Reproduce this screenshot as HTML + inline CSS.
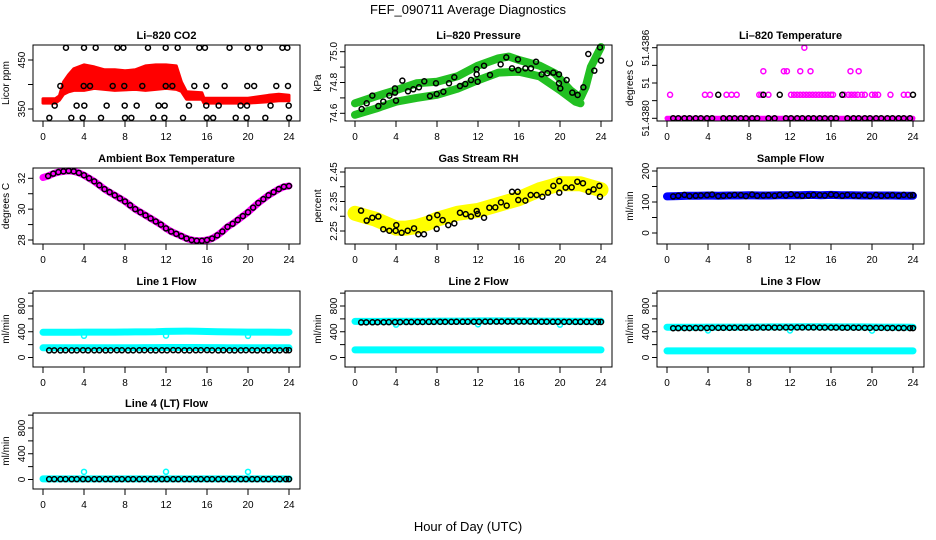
<!DOCTYPE html>
<html><head><meta charset="utf-8"><style>
html,body{margin:0;padding:0;background:#fff;}
svg{display:block;font-family:"Liberation Sans",Arial,sans-serif;}
</style></head><body>
<svg id="fig" width="936" height="540" viewBox="0 0 936 540" xmlns="http://www.w3.org/2000/svg">
<rect width="936" height="540" fill="#fff"/>
<text x="468" y="14" text-anchor="middle" font-size="13">FEF_090711  Average Diagnostics</text>
<text x="468" y="531" text-anchor="middle" font-size="13">Hour of Day (UTC)</text>
</svg>
<script>
// ---------- data ----------
const xTicks = [0,4,8,12,16,20,24];
const avgHours = [0.6,1.1,1.7,2.2,2.8,3.3,3.9,4.4,5.0,5.5,6.1,6.6,7.2,7.7,8.3,8.8,9.4,9.9,10.5,11.0,11.6,12.1,12.7,13.2,13.8,14.3,14.9,15.4,16.0,16.5,17.1,17.6,18.2,18.7,19.3,19.8,20.4,20.9,21.5,22.0,22.6,23.1,23.7,24.0];
const hourly = [0,1,2,3,4,5,6,7,8,9,10,11,12,13,14,15,16,17,18,19,20,21,22,23,24];

// CO2
const co2BandHours = [0,1.2,1.6,2,2.5,3,4,5,6,7,8,9,10,11,12,13,13.5,14,15.5,15.7,18,20,22,23,24];
const co2Lo = [362,362,368,380,385,388,388,392,390,388,389,390,388,390,392,390,386,370,370,362,362,362,365,367,367];
const co2Hi = [371,371,377,405,420,432,440,436,430,430,428,430,438,440,440,438,405,385,383,372,372,372,378,380,378];
const co2AvgHours = [2.24,4.0,5.14,7.25,7.84,10.24,11.97,13.14,15.25,15.8,18.2,19.97,21.14,23.35,23.84,
 1.69,3.97,4.59,6.8,7.93,9.69,11.97,12.62,14.76,15.93,17.72,19.93,20.6,22.76,23.9,
 1.14,3.28,4.03,6.21,7.97,9.14,11.28,11.87,14.24,15.93,17.14,19.28,19.9,22.2,23.97,
 0.62,2.76,3.87,5.66,8.0,8.62,10.76,11.84,13.66,15.97,16.6,18.8,19.87,21.69,24.0];
const co2AvgVals = [475,475,475,475,475,475,475,475,475,475,475,475,475,475,475,
 397,397,397,397,397,397,397,397,397,397,397,397,397,397,397,
 357,357,357,357,357,357,357,357,357,357,357,357,357,357,357,
 332,332,332,332,332,332,332,332,332,332,332,332,332,332,332];

// Pressure
const presUpHours = [0,2,4,6,8,10,12,14,15,16,18,19.5,21,22,22.5,23,24];
const presUpVals = [74.665,74.71,74.75,74.795,74.805,74.84,74.91,74.957,74.968,74.946,74.91,74.86,74.75,74.70,74.77,74.90,75.03];
const presLoHours = [0,2,4,6,8,10,12,14,16,18,20,21.5,22];
const presLoVals = [74.59,74.63,74.675,74.70,74.72,74.76,74.815,74.864,74.87,74.84,74.75,74.675,74.665];
const presAvgHours = [0.65,1.14,1.69,2.28,2.76,3.35,3.9,3.9,4.0,4.62,5.17,5.69,6.24,6.76,7.32,7.9,7.97,8.62,9.17,9.69,10.24,10.76,11.32,11.87,11.87,11.97,12.59,13.17,14.21,14.76,15.32,15.9,15.93,16.62,17.17,17.66,18.21,18.76,19.35,19.9,19.9,20.03,20.65,21.2,21.72,22.28,22.76,23.35,23.9,24.0];
const presAvgVals = [74.628,74.665,74.715,74.647,74.676,74.715,74.762,74.734,74.682,74.812,74.743,74.756,74.769,74.808,74.712,74.795,74.725,74.74,74.795,74.834,74.777,74.79,74.816,74.886,74.853,74.805,74.909,74.849,74.918,74.963,74.892,74.95,74.881,74.892,74.892,74.935,74.853,74.86,74.864,74.853,74.795,74.762,74.816,74.734,74.719,74.769,74.985,74.877,75.028,74.942];

// Li-820 temperature
const tempTicks = [51.438,51.438075,51.43815,51.438225,51.4383];
const tempTickLabels = ["51.4380","","51","","51.4386"];
const tempHiHours = [0.3,3.7,4.2,5.8,6.3,6.8,9.0,9.2,9.9,12.1,12.4,12.7,13.0,13.3,13.6,13.9,14.2,14.5,14.8,15.1,15.4,15.7,16.0,16.2,17.3,17.7,18.0,18.3,18.6,19.0,19.3,20.0,20.3,20.6,21.8,23.1,23.5,9.4,11.4,11.7,13.0,14.0,17.9,18.7,13.4];
const tempHiVals = [51.4381,51.4381,51.4381,51.4381,51.4381,51.4381,51.4381,51.4381,51.4381,51.4381,51.4381,51.4381,51.4381,51.4381,51.4381,51.4381,51.4381,51.4381,51.4381,51.4381,51.4381,51.4381,51.4381,51.4381,51.4381,51.4381,51.4381,51.4381,51.4381,51.4381,51.4381,51.4381,51.4381,51.4381,51.4381,51.4381,51.4381,51.4382,51.4382,51.4382,51.4382,51.4382,51.4382,51.4382,51.4383];
const tempAvgVals = [51.438,51.438,51.438,51.438,51.438,51.438,51.438,51.438,51.4381,51.438,51.438,51.438,51.438,51.438,51.438,51.438,51.4381,51.438,51.438,51.4381,51.438,51.438,51.438,51.438,51.438,51.438,51.438,51.438,51.438,51.438,51.4381,51.438,51.438,51.438,51.438,51.438,51.438,51.438,51.438,51.438,51.438,51.438,51.438,51.4381];

// Ambient box temperature
const ambHours = [0,0.5,1,1.5,2,2.5,3,3.5,4,4.5,5,5.5,6,6.5,7,7.5,8,8.5,9,9.5,10,10.5,11,11.5,12,12.5,13,13.5,14,14.5,15,15.5,16,16.5,17,17.5,18,18.5,19,19.5,20,20.5,21,21.5,22,22.5,23,23.5,24];
const ambVals = [32.05,32.15,32.3,32.4,32.45,32.48,32.45,32.35,32.2,32.0,31.8,31.55,31.3,31.1,30.9,30.7,30.5,30.25,30.0,29.8,29.6,29.4,29.2,29.0,28.75,28.55,28.4,28.25,28.1,28.0,27.95,27.95,28.0,28.1,28.3,28.55,28.85,29.05,29.3,29.55,29.8,30.1,30.4,30.65,30.9,31.1,31.3,31.45,31.5];

// Gas stream RH
const rhBandHours = [0,1,2,3,4,5,6,7,8,9,10,11,12,13,14,15,16,17,18,19,20,21,22,23,24];
const rhBandVals = [2.31,2.30,2.29,2.275,2.26,2.26,2.265,2.275,2.29,2.30,2.31,2.315,2.32,2.33,2.34,2.35,2.36,2.375,2.39,2.40,2.41,2.41,2.41,2.40,2.39];
const rhAvgHours = [0.59,1.14,1.69,2.28,2.76,3.35,3.97,4.03,4.55,5.14,5.76,6.18,6.73,7.25,7.97,8.03,8.55,9.1,9.69,10.24,10.8,11.32,11.87,11.97,12.59,13.11,13.69,14.24,14.8,15.32,15.87,15.93,16.62,17.14,17.72,18.28,18.83,19.35,19.93,19.93,20.55,21.14,21.69,22.24,22.79,23.28,23.84,23.9];
const rhAvgVals = [2.319,2.285,2.295,2.299,2.256,2.251,2.251,2.27,2.244,2.251,2.259,2.239,2.239,2.295,2.257,2.304,2.287,2.27,2.276,2.312,2.307,2.299,2.318,2.308,2.295,2.329,2.33,2.347,2.336,2.383,2.383,2.355,2.353,2.372,2.372,2.366,2.38,2.403,2.419,2.38,2.397,2.398,2.417,2.412,2.383,2.391,2.403,2.366];

// Sample flow
const sampleBand = [118,119,120,120,121,120,121,121,122,121,121,122,122,122,123,122,123,122,122,121,121,121,121,120,120];
const sampleAvg = [118,120,123,119,120,121,122,124,119,120,121,123,122,119,124,120,121,122,120,123,121,125,122,120,121,123,122,121,124,122,120,123,121,120,122,119,123,120,121,122,120,123,121,122];

// Line flows
const line1Hi = [392,392,393,393,394,394,395,395,396,397,398,400,405,408,410,408,404,400,398,396,395,394,394,393,393];
const line1Lo = [150,150,151,151,152,152,152,153,153,153,154,154,155,155,155,155,154,154,153,153,152,152,151,151,150];
const line1Avg = [110,111,110,112,110,111,113,110,111,112,110,111,113,112,110,111,112,113,111,110,112,111,114,112,111,110,112,113,114,111,110,112,111,110,111,113,112,110,111,112,110,111,112,113];
const line2Hi = [560,561,561,562,562,563,563,564,565,566,566,567,568,568,569,569,568,567,566,565,565,564,564,563,563];
const line2Lo = [118,118,118,118,118,118,118,118,118,118,118,118,118,118,118,118,118,118,118,118,118,118,118,118,118];
const line2Avg = [545,546,547,548,548,549,550,550,551,551,552,552,553,553,554,554,554,555,555,555,556,556,557,557,557,558,558,558,558,558,557,557,556,556,555,555,554,554,553,553,553,552,552,552];
const line3Hi = [470,470,471,471,472,472,473,473,474,474,475,475,476,477,478,478,477,476,476,475,474,473,472,472,471];
const line3Lo = [102,102,102,102,102,102,102,102,102,102,102,102,102,102,102,102,102,102,102,102,102,102,102,102,102];
const line3Avg = [455,456,457,457,458,458,459,460,460,461,461,462,462,463,463,464,464,465,465,465,466,466,466,466,466,466,465,465,464,464,463,463,462,462,461,461,460,460,459,459,458,458,457,457];
const line4Band = [10,10,10,10,10,10,10,10,10,10,10,10,10,10,10,10,10,10,10,10,10,10,10,10,10];
const line4Avg = [5,5,5,5,5,5,5,5,5,5,5,5,5,5,5,5,5,5,5,5,5,5,5,5,5,5,5,5,5,5,5,5,5,5,5,5,5,5,5,5,5,5,5,5];
const outlierHours = [4,12,20];
const line1Out = [337,340,335];
const line2Out = [510,515,510];
const line3Out = [420,420,418];
const line4Out = [119,120,119];

// ---------- drawing ----------
const NS = "http://www.w3.org/2000/svg";
const svg = document.getElementById("fig");
const COLX = [33,345,657], ROWY = [45,168,291,413], PW = 267, PH = 76;

function mk(tag, attrs, parent){
  const e = document.createElementNS(NS, tag);
  for (const k in attrs) e.setAttribute(k, attrs[k]);
  (parent||svg).appendChild(e);
  return e;
}

function makePanel(o){
  const g = mk("g", {});
  
  
  const L = COLX[o.col], T = ROWY[o.row];
  const p = {g, L, T};
  p.x = h => L + 10 + h/24*246;
  p.y = v => T + o.r1 + (v - o.v1) * (o.r2 - o.r1) / (o.v2 - o.v1);
  const title = mk("text", {x: L + PW/2, y: T - 6, "text-anchor":"middle", "font-size":"11", "font-weight":"bold"}, g);
  title.textContent = o.title;
  
  
  const yt = mk("text", {x: 0, y: 0, "text-anchor":"middle", "font-size":"10", transform:`translate(${L-24},${T+PH/2}) rotate(-90)`}, g);
  yt.textContent = o.ytitle;
  
  
  // x axis
  const xa = mk("g", {}, g);
  
  
  xTicks.forEach(t => {
    mk("line", {x1:p.x(t), x2:p.x(t), y1:T+PH, y2:T+PH+6, stroke:"#000", "stroke-width":1}, xa);
    const tl = mk("text", {x:p.x(t), y:T+PH+19, "text-anchor":"middle", "font-size":"10"}, xa);
    tl.textContent = t;
    
    
  });
  // y axis
  const ya = mk("g", {}, g);
  
  
  o.ticks.forEach((t,i) => {
    const yy = p.y(t);
    mk("line", {x1:L-5, x2:L, y1:yy, y2:yy, stroke:"#000", "stroke-width":1}, ya);
    const lab = o.labels[i];
    if (lab !== "") {
      const tl = mk("text", {x:0, y:0, "text-anchor":"middle", "font-size":"10", transform:`translate(${L-8},${yy}) rotate(-90)`}, ya);
      tl.textContent = lab;
      
      
    }
  });
  p.plot = mk("g", {}, g);
  
  
  const box = mk("rect", {x:L, y:T, width:PW, height:PH, fill:"none", stroke:"#000", "stroke-width":1}, g);
  
  
  return p;
}

function bandLine(p, hours, vals, color, w, name){
  const pts = hours.map((h,i) => p.x(h).toFixed(1)+","+p.y(vals[i]).toFixed(1)).join(" ");
  const e = mk("polyline", {points:pts, fill:"none", stroke:color, "stroke-width":w, "stroke-linejoin":"round", "stroke-linecap":"round"}, p.plot);
  
  
}
function bandPoly(p, hours, lo, hi, color, name){
  const a = hours.map((h,i) => p.x(h).toFixed(1)+","+p.y(hi[i]).toFixed(1));
  const b = hours.map((h,i) => p.x(h).toFixed(1)+","+p.y(lo[i]).toFixed(1)).reverse();
  const e = mk("polygon", {points:a.concat(b).join(" "), fill:color, stroke:color, "stroke-width":3, "stroke-linejoin":"round"}, p.plot);
  
  
}
function pts(p, hours, vals, color, name, r){
  hours.forEach((h,i) => {
    const c = mk("circle", {cx:p.x(h), cy:p.y(vals[i]), r:r||2.5, fill:"none", stroke:color, "stroke-width":1.5}, p.plot);
    
    
  });
}

const flowTicks = [0,200,400,600,800,1000], flowLabels = ["0","","400","","800",""];

// CO2
let p = makePanel({name:"co2-panel", col:0, row:0, title:"Li\u2013820 CO2", ytitle:"Licor ppm", v1:450, r1:15, v2:350, r2:64, ticks:[350,400,450], labels:["350","","450"]});
bandPoly(p, co2BandHours, co2Lo, co2Hi, "#ff0000", "co2-raw-band");
pts(p, co2AvgHours, co2AvgVals, "#000", "co2-average-point");

// Pressure
p = makePanel({name:"pressure-panel", col:1, row:0, title:"Li\u2013820 Pressure", ytitle:"kPa", v1:75.0, r1:6.7, v2:74.6, r2:68.3, ticks:[74.6,74.7,74.8,74.9,75.0], labels:["74.6","","74.8","","75.0"]});
bandLine(p, presUpHours, presUpVals, "#22c022", 8, "pressure-raw-band-upper");
bandLine(p, presLoHours, presLoVals, "#22c022", 8, "pressure-raw-band-lower");
pts(p, presAvgHours, presAvgVals, "#000", "pressure-average-point");

// Li-820 temperature
p = makePanel({name:"li820-temperature-panel", col:2, row:0, title:"Li\u2013820 Temperature", ytitle:"degrees C", v1:51.438, r1:73.3, v2:51.4383, r2:2.7, ticks:tempTicks, labels:tempTickLabels});
bandLine(p, [0,24], [51.438,51.438], "#ff00ff", 5, "temperature-raw-band");
pts(p, tempHiHours, tempHiVals, "#ff00ff", "temperature-raw-point");
pts(p, avgHours, tempAvgVals, "#000", "temperature-average-point");

// Ambient
p = makePanel({name:"ambient-temperature-panel", col:0, row:1, title:"Ambient Box Temperature", ytitle:"degrees C", v1:32, r1:10.3, v2:28, r2:72, ticks:[28,29,30,31,32], labels:["28","","30","","32"]});
bandLine(p, ambHours, ambVals, "#ff00ff", 7, "ambient-raw-band");
pts(p, ambHours.slice(1), ambVals.slice(1), "#000", "ambient-average-point");

// RH
p = makePanel({name:"gas-stream-rh-panel", col:1, row:1, title:"Gas Stream RH", ytitle:"percent", v1:2.45, r1:4, v2:2.25, r2:63, ticks:[2.25,2.30,2.35,2.40,2.45], labels:["2.25","","2.35","","2.45"]});
bandLine(p, rhBandHours, rhBandVals, "#ffff00", 15, "rh-raw-band");
pts(p, rhAvgHours, rhAvgVals, "#000", "rh-average-point");

// Sample flow
p = makePanel({name:"sample-flow-panel", col:2, row:1, title:"Sample Flow", ytitle:"ml/min", v1:200, r1:3, v2:0, r2:65, ticks:[0,50,100,150,200], labels:["0","","100","","200"]});
bandLine(p, hourly, sampleBand, "#0000ff", 8, "sample-raw-band");
pts(p, avgHours, sampleAvg, "#000", "sample-average-point");

// Line flows
const lines = [
  {name:"line1-flow-panel", col:0, row:2, title:"Line 1 Flow", hi:line1Hi, lo:line1Lo, avg:line1Avg, out:line1Out},
  {name:"line2-flow-panel", col:1, row:2, title:"Line 2 Flow", hi:line2Hi, lo:line2Lo, avg:line2Avg, out:line2Out},
  {name:"line3-flow-panel", col:2, row:2, title:"Line 3 Flow", hi:line3Hi, lo:line3Lo, avg:line3Avg, out:line3Out},
  {name:"line4-flow-panel", col:0, row:3, title:"Line 4 (LT) Flow", hi:line4Band, lo:null, avg:line4Avg, out:line4Out}
];
lines.forEach(c => {
  const q = makePanel({name:c.name, col:c.col, row:c.row, title:c.title, ytitle:"ml/min", v1:0, r1:66.5, v2:800, r2:15, ticks:flowTicks, labels:flowLabels});
  bandLine(q, hourly, c.hi, "#00ffff", 7, "flow-raw-band-upper");
  if (c.lo) bandLine(q, hourly, c.lo, "#00ffff", 7, "flow-raw-band-lower");
  pts(q, outlierHours, c.out, "#00ffff", "flow-raw-outlier");
  pts(q, avgHours, c.avg, "#000", "flow-average-point");
});
</script>
</body></html>
